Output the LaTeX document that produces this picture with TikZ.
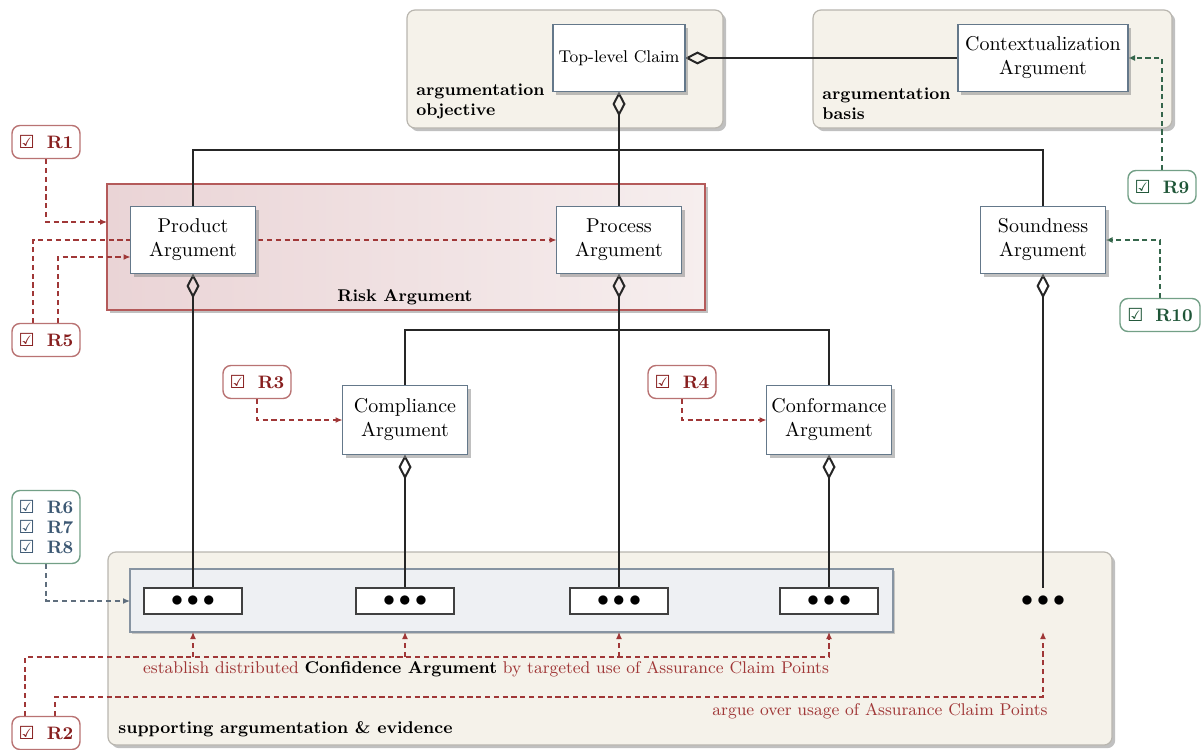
\documentclass[tikz,border=0pt]{standalone}
\usepackage{fontspec}
\newfontfamily\symfont{DejaVu Sans}
\usetikzlibrary{arrows.meta,shadows,calc}
\definecolor{reqred}{RGB}{135,30,30}
\definecolor{reqline}{RGB}{160,55,55}
\definecolor{reqredlight}{RGB}{185,115,115}
\definecolor{reqgreen}{RGB}{30,85,55}
\definecolor{reqgreenlight}{RGB}{115,160,135}
\definecolor{reqblue}{RGB}{60,88,115}
\definecolor{reqbluelight}{RGB}{95,110,125}
\definecolor{grpfill}{RGB}{245,242,234}
\definecolor{grpborder}{RGB}{185,182,175}
\definecolor{nodeborder}{RGB}{100,120,138}
\definecolor{innerfill}{RGB}{238,240,243}
\definecolor{innerborder}{RGB}{135,148,162}
\definecolor{riskborder}{RGB}{180,90,90}
\definecolor{riskleft}{RGB}{234,212,214}
\definecolor{riskright}{RGB}{246,238,238}
\newcommand\chk{{\symfont\char"2611}}
\newcommand\threedots{{\fontsize{12}{12}\selectfont${\bullet}\,{\bullet}\,{\bullet}$}}
\pgfdeclarelayer{bg}
\pgfdeclarelayer{lines}
\pgfsetlayers{bg,lines,main}
\tikzset{
  shad/.style={drop shadow={shadow xshift=1.6pt,shadow yshift=-1.6pt,fill=black!45,opacity=0.55}},
  argbox/.style={draw=nodeborder, fill=white, line width=0.6pt, align=center,
    minimum width=62.5pt, minimum height=33.5pt, inner sep=1pt, outer sep=0pt, shad},
  grp/.style={draw=grpborder, fill=grpfill, rounded corners=4pt, line width=0.6pt,
    inner sep=0pt, outer sep=0pt, shad},
  riskgrp/.style={draw=riskborder, left color=riskleft, right color=riskright, line width=0.6pt,
    inner sep=0pt, outer sep=0pt, shad},
  innerbox/.style={draw=innerborder, fill=innerfill, line width=0.6pt, inner sep=0pt, outer sep=0pt,
    drop shadow={shadow xshift=1.2pt,shadow yshift=-1.2pt,fill=black!40,opacity=0.5}},
  dotbox/.style={draw=black!75, fill=white, line width=0.6pt, minimum width=49pt, minimum height=13pt,
    inner sep=0pt, outer sep=0pt},
  grplabel/.style={font=\fontsize{8.5}{10}\selectfont\bfseries, align=left, inner sep=0pt},
  req/.style={draw=reqredlight, fill=white, rounded corners=4pt, line width=0.7pt, text=reqred,
    font=\fontsize{9}{10}\selectfont\bfseries, minimum width=34pt, minimum height=16.5pt, inner sep=1pt},
  reqg/.style={req, draw=reqgreenlight, text=reqgreen},
  agg/.style={line width=1pt, black!85, {Diamond[open,length=12.5pt,width=6.5pt]}-},
  bar/.style={line width=1pt, black!85},
  reqarrow/.style={dash pattern=on 2.6pt off 1.8pt, line width=0.6pt, -{Latex[length=3.5pt,width=3pt]}},
}
\begin{document}
\begin{tikzpicture}[x=0.5pt,y=-0.5pt]
\useasboundingbox (0,0) rectangle (1202,749);

% main argument nodes
\node[argbox, minimum width=66pt] (claim) at (619,58) {\fontsize{8.5}{10}\selectfont Top-level Claim};
\node[argbox, minimum width=85pt] (ctx) at (1043,58) {Contextualization\\Argument};
\node[argbox] (product) at (193,240) {Product\\Argument};
\node[argbox] (process) at (619,240) {Process\\Argument};
\node[argbox] (sound) at (1043,240) {Soundness\\Argument};
\node[argbox, minimum height=34.5pt] (compl) at (405,420) {Compliance\\Argument};
\node[argbox, minimum height=34.5pt] (conf) at (829,420) {Conformance\\Argument};

% groups
\begin{pgfonlayer}{bg}
\node[grp, minimum width=158pt, minimum height=59pt] (objgrp) at (565,69) {};
\node[grp, minimum width=179.5pt, minimum height=59pt] (basisgrp) at (992.5,69) {};
\node[riskgrp, minimum width=299pt, minimum height=63pt] (risk) at (406,247) {};
\node[grp, minimum width=502pt, minimum height=96.5pt] (support) at (610,648.5) {};
\node[innerbox, minimum width=381.5pt, minimum height=31.5pt] (inner) at (511.5,600.5) {};
\end{pgfonlayer}

\node[grplabel, anchor=north west] (objlbl) at (416,83) {argumentation\\objective};
\node[grplabel, anchor=north west] (basislbl) at (822,87) {argumentation\\basis};
\node[grplabel] (risklbl) at (405,297) {Risk Argument};
\node[grplabel, anchor=west] (suplbl) at (118,729) {supporting argumentation \& evidence};

% evidence boxes
\node[dotbox] (d1) at (193,601) {\threedots};
\node[dotbox] (d2) at (405,601) {\threedots};
\node[dotbox] (d3) at (619,601) {\threedots};
\node[dotbox] (d4) at (829,601) {\threedots};
\node[dotbox, draw=none, fill=none] (d5) at (1043,601) {\threedots};

% requirement tags
\node[req] (r1) at (46,142) {\chk\hspace{6pt}R1};
\node[req] (r5) at (46,340) {\chk\hspace{6pt}R5};
\node[req] (r3) at (257,382) {\chk\hspace{6pt}R3};
\node[req] (r4) at (682,382) {\chk\hspace{6pt}R4};
\node[req] (r2) at (46,733) {\chk\hspace{6pt}R2};
\node[req, draw=reqgreenlight, text=reqblue, align=left, minimum height=36.5pt,
  font=\fontsize{9}{9.8}\selectfont\bfseries] (r678) at (46,527)
  {\chk\hspace{6pt}R6\\\chk\hspace{6pt}R7\\\chk\hspace{6pt}R8};
\node[reqg] (r9) at (1162,187) {\chk\hspace{6pt}R9};
\node[reqg, minimum width=40pt] (r10) at (1160,315) {\chk\hspace{6pt}R10};

% bottom labels
\node[text=reqline, font=\fontsize{8.5}{10}\selectfont, inner sep=0pt] (conflbl) at (486,669)
  {establish distributed \textcolor{black}{\textbf{Confidence Argument}} by targeted use of Assurance Claim Points};
\node[text=reqline, font=\fontsize{8.5}{10}\selectfont, inner sep=0pt, anchor=east] (acplbl) at (1048,711)
  {argue over usage of Assurance Claim Points};

\coordinate (bartop) at (619,150);
\coordinate (barmid) at (619,330);
\coordinate (h1) at (0,657);
\coordinate (h2) at (0,697);

\begin{pgfonlayer}{lines}
\draw[agg] (claim.east) -- (ctx.west);
\draw[agg] (claim.south) -- (process.north);
\draw[bar] (product.north) |- (sound.north |- bartop) -- (sound.north);
\draw[agg] (product.south) -- (d1.north);
\draw[agg] (process.south) -- (d3.north);
\draw[agg] (sound.south) -- (d5.north);
\draw[agg] (compl.south) -- (d2.north);
\draw[agg] (conf.south) -- (d4.north);
\draw[bar] (compl.north) |- (conf.north |- barmid) -- (conf.north);

\draw[reqarrow, reqline] (r1.south) |- ($(risk.west)+(0,-25)$);
\draw[reqarrow, reqline] ($(r5.north)+(-13,0)$) |- (process.west);
\draw[reqarrow, reqline] ($(r5.north)+(12,0)$) |- ($(product.west)+(0,17)$);
\draw[reqarrow, reqline] (r3.south) |- (compl.west);
\draw[reqarrow, reqline] (r4.south) |- (conf.west);
\draw[reqarrow, reqbluelight] (r678.south) |- (inner.west |- d1);
\draw[reqarrow, reqgreen!90] (r9.north) |- (ctx.east);
\draw[reqarrow, reqgreen!90] (r10.north) |- (sound.east);

\draw[reqarrow, reqline] ($(r2.north)+(-21,0)$) |- (d4 |- h1) -- (d4 |- inner.south);
\draw[reqarrow, reqline] (d1 |- h1) -- (d1 |- inner.south);
\draw[reqarrow, reqline] (d2 |- h1) -- (d2 |- inner.south);
\draw[reqarrow, reqline] (d3 |- h1) -- (d3 |- inner.south);
\draw[reqarrow, reqline] ($(r2.north)+(9,0)$) |- (d5 |- h2) -- (d5 |- inner.south);
\end{pgfonlayer}
\end{tikzpicture}
\end{document}
